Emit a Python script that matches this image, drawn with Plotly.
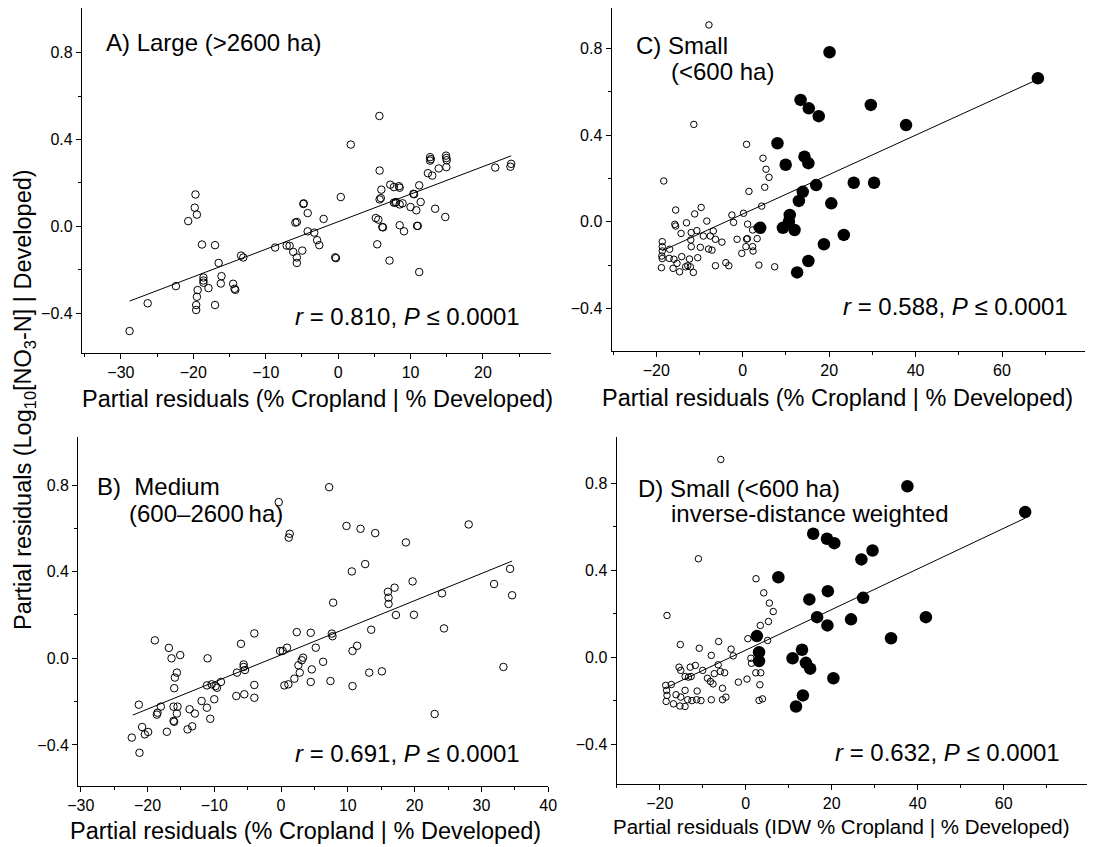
import plotly.graph_objects as go

W, H = 1100, 847
OFF = 8  # page body margin offset of the plot div
FONT = "Arial, Liberation Sans, sans-serif"

# ---------------- Panel A: Large (>2600 ha) ----------------
a_x = [-28.8, -26.3, -22.4, -19.7, -19.8, -19.5, -20.7, -18.8, -17.0, -16.5, -18.6, -18.6, -18.6,
       -17.9, -19.4, -19.5, -19.6, -19.6, -17.0, -16.1, -16.2, -14.5, -14.3, -14.2, -13.4, -13.1,
       -8.7, -7.1, -6.7, -6.2, -5.7, -5.7, -5.9, -5.7, -4.8, -4.75, -4.2, -4.2, -4.95, -3.3, -2.9,
       -2.6, -2.0, -0.4, -0.3,
       0.37, 5.7, 1.75, 5.73, 5.97, 5.73, 5.9, 5.2, 5.55, 6.1, 6.2, 5.4, 7.1, 7.2, 7.7, 8.4, 8.5,
       7.7, 7.9, 8.0, 8.5, 8.9, 8.5, 9.1, 10.4, 10.5, 10.0, 10.8, 10.9, 11.0, 11.2, 11.4, 11.2,
       12.4, 13.0, 12.7, 12.8, 12.7, 13.9, 13.4, 14.9, 14.95, 15.0, 14.95, 14.8, 21.7, 23.9, 23.8]
a_y = [-0.483, -0.355, -0.276, 0.147, 0.086, 0.054, 0.024, -0.084, -0.087, -0.169, -0.236, -0.25, -0.26,
       -0.285, -0.294, -0.325, -0.363, -0.386, -0.363, -0.23, -0.264, -0.265, -0.288, -0.293, -0.135, -0.144,
       -0.098, -0.089, -0.09, -0.118, -0.144, -0.169, 0.017, 0.02, 0.103, 0.106, 0.061, -0.023, -0.112, -0.029, -0.064,
       -0.087, 0.034, -0.143, -0.147,
       0.135, 0.509, 0.377, 0.257, 0.169, 0.124, 0.13, 0.038, 0.031, -0.003, -0.005, -0.083, -0.158, 0.192, 0.181, 0.185, 0.178,
       0.109, 0.109, 0.112, 0.101, 0.106, 0.005, -0.023, 0.15, 0.148, 0.089, 0.074, 0.002, 0.002, 0.189, 0.112, -0.211,
       0.245, 0.234, 0.319, 0.31, 0.303, 0.267, 0.081, 0.326, 0.315, 0.305, 0.273, 0.043, 0.271, 0.288, 0.275]
a_fit_x = [-28.8, 23.9]
a_fit_y = [-0.345, 0.325]

# ---------------- Panel B: Medium (600-2600 ha) ----------------
b_x = [7.2, -0.35, 1.3, 1.15, 7.8, -18.9, -16.8, -16.4, -15.1, -11.0, -15.6, -15.9, -16.0, -21.3, -18.0,
       -18.5, -18.6, -16.1, -15.5, -15.6, -16.1, -16.0, -13.7, -12.9, -20.8, -20.4, -19.9, -22.35, -21.2,
       -17.1, -14.0, -13.3, -11.9, -11.1, -10.6, -10.0, -11.1, -10.4, -9.8, -9.6, -9.0, -6.0, -6.6, -5.6,
       -5.6, -5.4, -6.7, -5.5, -4.0, -4.0, -4.0, -0.15, 0.25, 0.9, 0.5, 1.1, 2.0, 2.35, 2.6, 2.8, 3.1, 3.3,
       4.45, 4.6, 4.45, 5.2, 6.3, 7.4, 7.6, 7.7,
       9.8, 11.9, 14.1, 18.7, 28.1, 12.6, 10.6, 34.3, 31.9, 34.6, 19.7, 17.0, 16.0, 16.1, 16.1, 17.2, 19.9,
       24.1, 24.4, 13.5, 11.4, 10.7, 10.7, 13.2, 15.1, 33.3, 23.0]
b_y = [0.79, 0.721, 0.575, 0.557, 0.257, 0.083, 0.048, 0.0, 0.015, 0.0, -0.066, -0.089, -0.138, -0.214, -0.223,
       -0.251, -0.26, -0.223, -0.223, -0.255, -0.289, -0.293, -0.235, -0.255, -0.317, -0.351, -0.34, -0.366, -0.436,
       -0.339, -0.328, -0.314, -0.197, -0.228, -0.279, -0.189, -0.125, -0.12, -0.128, -0.136, -0.109, 0.067, -0.066, -0.028,
       -0.04, -0.054, -0.174, -0.166, 0.115, -0.123, -0.182, 0.034, 0.034, 0.049, -0.125, -0.12, -0.094, 0.121, -0.032, -0.066, -0.009, 0.003,
       0.118, -0.051, -0.109, 0.049, -0.016, -0.105, 0.114, 0.102,
       0.611, 0.598, 0.578, 0.535, 0.618, 0.435, 0.401, 0.413, 0.343, 0.291, 0.355, 0.326, 0.307, 0.28, 0.251, 0.2, 0.201,
       0.3, 0.138, 0.132, 0.058, 0.034, -0.128, -0.066, -0.06, -0.04, -0.257]
b_fit_x = [-22.2, 34.6]
b_fit_y = [-0.262, 0.449]

# ---------------- Panel C: Small (<600 ha) ----------------
c_open_x = [-7.8, -11.3, -18.25, 0.9, 4.7, 5.4, 6.1, 5.1, 1.45, 4.4, -15.5, -9.6, -11.1, -8.3, -2.5, -2.1, 0.2,
            1.15, 2.3, 3.3, -15.7, -15.5, -13.0, -14.25, -11.9, -10.6, -9.1, -6.8, -7.5, -6.3, -4.8, -1.3, 0.9,
            1.1, 3.35, 0.76, 2.3, 2.4, -0.2, -18.6, -18.6, -18.6, -18.7, -18.6, -18.8, -16.9, -17.0, -15.9, -16.1,
            -15.2, -14.6, -14.1, -13.2, -12.7, -12.3, -12.1, -11.4, -11.9, -12.0, -10.4, -9.8, -7.9, -7.1, -6.3,
            -3.9, -3.2, 3.75, 7.4]
c_open_y = [0.908, 0.449, 0.188, 0.357, 0.293, 0.242, 0.205, 0.159, 0.14, 0.072, 0.054, 0.066, 0.036, 0.003, 0.031, -0.003, 0.039,
            -0.011, -0.038, -0.026, -0.012, -0.02, -0.005, -0.054, -0.05, -0.041, -0.066, -0.043, -0.066, -0.081, -0.094, -0.081, -0.08,
            -0.078, -0.078, -0.115, -0.115, -0.135, -0.146, -0.092, -0.115, -0.135, -0.158, -0.17, -0.212, -0.127, -0.169, -0.173, -0.215,
            -0.192, -0.231, -0.161, -0.208, -0.203, -0.172, -0.208, -0.234, -0.115, -0.084, -0.166, -0.118, -0.126, -0.131, -0.203,
            -0.189, -0.203, -0.2, -0.208]
c_fill_x = [20.1, 13.4, 15.3, 17.6, 8.05, 9.95, 14.3, 15.2, 17.0, 13.9, 13.0, 20.5, 10.9, 10.7, 9.3, 12.0,
            4.05, 18.8, 15.2, 12.6, 23.4, 29.65, 37.8, 68.3, 25.7, 30.4]
c_fill_y = [0.782, 0.562, 0.523, 0.487, 0.362, 0.263, 0.3, 0.27, 0.169, 0.138, 0.096, 0.085, 0.031, 0.0, -0.028, -0.038,
            -0.028, -0.104, -0.181, -0.234, -0.061, 0.539, 0.446, 0.662, 0.18, 0.18]
c_fit_x = [-18.6, 68.0]
c_fit_y = [-0.134, 0.654]

# ---------------- Panel D: Small, inverse-distance weighted ----------------
d_open_x = [-5.8, -11.0, -18.3, 2.4, 4.2, 5.5, 6.4, 5.3, 3.4, 5.1, 0.5, -3.4, -2.9, 1.2, -6.3, -8.0, -10.8,
            -15.2, -15.5, -15.1, -12.9, -11.7, -14.1, -13.3, -12.7, -10.0, -8.9, -8.2, -7.6, -7.3, -6.4, -5.9,
            -4.9, -5.4, -4.6, -5.4, -8.0, -1.7, 0.3, 1.35, 2.35, 3.5, 3.3, 3.1, 3.9, -18.6, -18.4, -18.3, -18.5,
            -17.3, -16.8, -16.2, -15.3, -15.1, -14.1, -14.1, -13.5, -12.5, -11.4, -10.4, -11.3]
d_open_y = [0.91, 0.453, 0.192, 0.361, 0.296, 0.249, 0.21, 0.164, 0.146, 0.077, 0.085, 0.037, 0.006, -0.005, 0.072, 0.008, 0.041,
            0.058, -0.046, -0.061, -0.046, -0.038, -0.089, -0.092, -0.089, -0.061, -0.097, -0.112, -0.123, -0.076, -0.035, -0.066,
            -0.072, -0.143, -0.184, -0.196, -0.196, -0.115, -0.101, -0.028, -0.072, -0.072, -0.127, -0.199, -0.192, -0.13, -0.153, -0.176, -0.204,
            -0.126, -0.215, -0.173, -0.225, -0.184, -0.227, -0.153, -0.196, -0.2, -0.196, -0.2, -0.156]
d_fill_x = [15.7, 18.9, 20.6, 7.6, 14.8, 19.1, 16.6, 19.0, 2.6, 3.1, 3.1, 10.9, 13.1, 14.0, 15.0, 20.4, 13.3,
            11.7, 37.6, 65.0, 29.5, 26.9, 27.3, 24.5, 41.9, 33.8]
d_fill_y = [0.568, 0.545, 0.525, 0.368, 0.266, 0.304, 0.184, 0.146, 0.097, 0.023, -0.018, -0.005, 0.034, -0.026, -0.053, -0.097, -0.176,
            -0.227, 0.787, 0.668, 0.491, 0.45, 0.273, 0.174, 0.184, 0.087]
d_fit_x = [-18.2, 65.0]
d_fit_y = [-0.138, 0.64]

# ---------------- Text ----------------
stats = {"A": "<i>r</i> = 0.810, <i>P</i> ≤ 0.0001",
         "B": "<i>r</i> = 0.691, <i>P</i> ≤ 0.0001",
         "C": "<i>r</i> = 0.588, <i>P</i> ≤ 0.0001",
         "D": "<i>r</i> = 0.632, <i>P</i> ≤ 0.0001"}
x_title = "Partial residuals (% Cropland | % Developed)"
x_title_idw = "Partial residuals (IDW % Cropland | % Developed)"
y_title = "Partial residuals (Log<sub>10</sub>[NO<sub>3</sub>-N] | Developed)"


def px(v):
    return min(max((v - OFF) / W, 0.0), 1.0)


def py(v):
    return min(max(1 - (v - OFF) / H, 0.0), 1.0)


fig = go.Figure()

line_style = dict(color="black", width=1)
open_small = dict(symbol="circle-open", size=6.5, color="black", line=dict(width=1, color="black"))
open_big = dict(symbol="circle-open", size=7.5, color="black", line=dict(width=1, color="black"))
filled = dict(symbol="circle", size=12.5, color="black", line=dict(width=0))

# A
fig.add_trace(go.Scatter(x=a_fit_x, y=a_fit_y, mode="lines", line=line_style, xaxis="x", yaxis="y"))
fig.add_trace(go.Scatter(x=a_x, y=a_y, mode="markers", marker=open_big, xaxis="x", yaxis="y"))
# C
fig.add_trace(go.Scatter(x=c_fit_x, y=c_fit_y, mode="lines", line=line_style, xaxis="x2", yaxis="y2"))
fig.add_trace(go.Scatter(x=c_open_x, y=c_open_y, mode="markers", marker=open_small, xaxis="x2", yaxis="y2"))
fig.add_trace(go.Scatter(x=c_fill_x, y=c_fill_y, mode="markers", marker=filled, xaxis="x2", yaxis="y2"))
# B
fig.add_trace(go.Scatter(x=b_fit_x, y=b_fit_y, mode="lines", line=line_style, xaxis="x3", yaxis="y3"))
fig.add_trace(go.Scatter(x=b_x, y=b_y, mode="markers", marker=open_big, xaxis="x3", yaxis="y3"))
# D
fig.add_trace(go.Scatter(x=d_fit_x, y=d_fit_y, mode="lines", line=line_style, xaxis="x4", yaxis="y4"))
fig.add_trace(go.Scatter(x=d_open_x, y=d_open_y, mode="markers", marker=open_small, xaxis="x4", yaxis="y4"))
fig.add_trace(go.Scatter(x=d_fill_x, y=d_fill_y, mode="markers", marker=filled, xaxis="x4", yaxis="y4"))


def xax(dom, rng, dtick, minor, anchor):
    return dict(domain=dom, range=rng, anchor=anchor, dtick=dtick, tick0=0, automargin=False,
                showline=True, linecolor="black", linewidth=1.3, mirror=False,
                ticks="outside", ticklen=5, tickwidth=1, tickcolor="black",
                minor=dict(dtick=minor, tick0=0, ticks="outside", ticklen=3, tickwidth=1, tickcolor="black"),
                showgrid=False, zeroline=False,
                tickfont=dict(family=FONT, size=16, color="black"))


def yax(dom, rng, anchor):
    return dict(domain=dom, range=rng, anchor=anchor, tickvals=[-0.4, 0.0, 0.4, 0.8], tickformat=".1f",
                automargin=False,
                showline=True, linecolor="black", linewidth=1.3, mirror=False,
                ticks="outside", ticklen=5, tickwidth=1, tickcolor="black",
                minor=dict(tickvals=[-0.6, -0.2, 0.2, 0.6], ticks="outside", ticklen=3, tickwidth=1, tickcolor="black"),
                showgrid=False, zeroline=False,
                tickfont=dict(family=FONT, size=16, color="black"))


fig.update_layout(
    width=W, height=H,
    margin=dict(l=0, r=0, t=0, b=0, autoexpand=False),
    paper_bgcolor="white", plot_bgcolor="white",
    showlegend=False,
    font=dict(family=FONT, color="black"),
    xaxis=xax([px(82), px(551)], [-35.37, 29.4], 10, 5, "y"),
    yaxis=yax([py(352.7), py(8)], [-0.583, 1.007], "x"),
    xaxis2=xax([px(611.7), px(1085)], [-30.3, 79.2], 20, 10, "y2"),
    yaxis2=yax([py(350.7), py(8)], [-0.595, 0.986], "x2"),
    xaxis3=xax([px(78.3), px(548.3)], [-30.36, 40.02], 10, 5, "y3"),
    yaxis3=yax([py(785.7), py(436.7)], [-0.588, 1.023], "x3"),
    xaxis4=xax([px(616.7), px(1086.7)], [-30.0, 79.3], 20, 10, "y4"),
    yaxis4=yax([py(784), py(436.7)], [-0.584, 1.015], "x4"),
)

ann = []


def add(text, x, y, size=23.5, xanchor="left", yanchor="middle", angle=0):
    ann.append(dict(text=text, x=px(x), y=py(y), xref="paper", yref="paper",
                    xanchor=xanchor, yanchor=yanchor, showarrow=False, textangle=angle,
                    font=dict(family=FONT, size=size, color="black")))


# panel labels
add("A) Large (>2600 ha)", 104, 43, size=24)
add("C) Small", 634, 45, size=24)
add("(<600 ha)", 669, 72, size=24)
add("B)  Medium", 95, 487, size=24)
add("(600–2600\u2009ha)", 127, 513, size=24)
add("D) Small (<600 ha)", 636, 488, size=24)
add("inverse-distance weighted", 669, 513, size=24)

# statistics
add(stats["A"], 522, 316, size=24, xanchor="right")
add(stats["B"], 522, 753, size=24, xanchor="right")
add(stats["C"], 1070, 307, size=24, xanchor="right")
add(stats["D"], 1062, 752, size=24, xanchor="right")

# axis titles
add(x_title, 317, 399, xanchor="center")
add(x_title, 837, 398, xanchor="center")
add(x_title, 305, 831, xanchor="center")
add(x_title_idw, 841, 826, size=20.5, xanchor="center")
add(y_title, 24, 400, xanchor="center", angle=-90)

fig.update_layout(annotations=ann)

fig.write_html("out.html")
